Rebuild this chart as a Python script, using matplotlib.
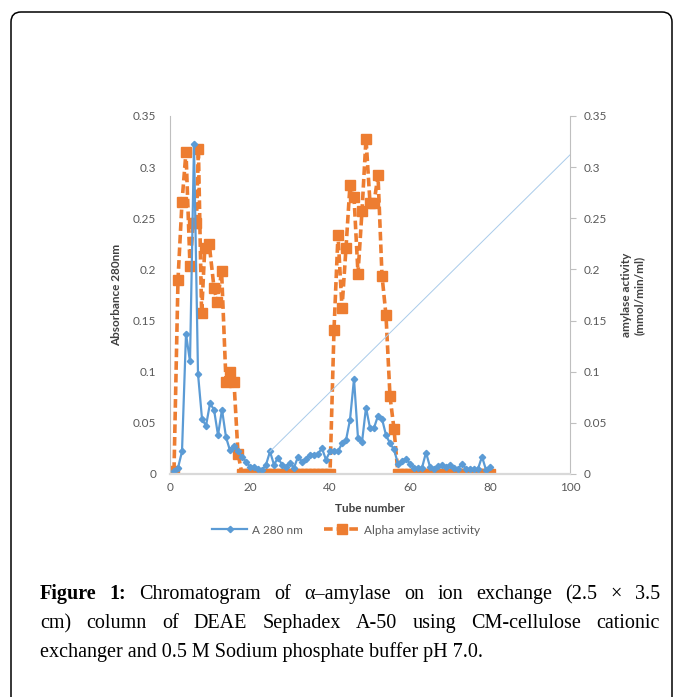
import matplotlib.pyplot as plt
from matplotlib.patches import FancyBboxPatch
from matplotlib.lines import Line2D
from matplotlib.ticker import FuncFormatter

# Data
a280_tube = list(range(1, 81))
a280 = [0.003, 0.006, 0.022, 0.137, 0.110, 0.323, 0.098, 0.054, 0.047, 0.069,
        0.063, 0.038, 0.063, 0.036, 0.023, 0.027, 0.022, 0.017, 0.012, 0.007,
        0.007, 0.005, 0.004, 0.009, 0.022, 0.009, 0.016, 0.009, 0.007, 0.011,
        0.006, 0.017, 0.012, 0.015, 0.019, 0.019, 0.020, 0.025, 0.014, 0.022,
        0.022, 0.022, 0.030, 0.033, 0.053, 0.093, 0.035, 0.031, 0.065, 0.045,
        0.045, 0.057, 0.054, 0.038, 0.030, 0.024, 0.010, 0.013, 0.015, 0.010,
        0.006, 0.006, 0.006, 0.021, 0.007, 0.005, 0.008, 0.009, 0.007, 0.009,
        0.006, 0.005, 0.010, 0.005, 0.005, 0.005, 0.005, 0.017, 0.004, 0.007]

amylase_tube = [1, 2, 3, 4, 5, 5.8, 6.6, 7.1, 7.9, 8.7, 9.8, 11, 11.8, 12.9,
                14, 15, 16, 17] + list(range(18, 81))
amylase = ([0.003, 0.190, 0.266, 0.315, 0.203, 0.245, 0.245, 0.318, 0.157,
            0.221, 0.225, 0.182, 0.168, 0.198, 0.090, 0.100, 0.090, 0.020]
           + [0.0] * 23
           + [0.141, 0.234, 0.162, 0.221, 0.283, 0.271, 0.196, 0.257, 0.328,
              0.265, 0.265, 0.292, 0.194, 0.155, 0.076, 0.044]
           + [0.0] * 24)

# thin gradient line
gradient_tube = [25, 100]
gradient = [0.022, 0.312]

xticks = [0, 20, 40, 60, 80, 100]
yticks = [0, 0.05, 0.1, 0.15, 0.2, 0.25, 0.3, 0.35]

caption_1 = "Chromatogram of α–amylase on ion exchange (2.5 × 3.5"
caption_2 = "cm) column of DEAE Sephadex A-50 using CM-cellulose cationic"
caption_3 = "exchanger and 0.5 M Sodium phosphate buffer pH 7.0."

blue = '#5B9BD5'
orange = '#ED7D31'
grey_txt = '#595959'
fs = 8.5
plt.rcParams['font.family'] = ['Lato', 'DejaVu Sans']

W, H = 683, 697
fig = plt.figure(figsize=(W / 100, H / 100), dpi=100)
ax = fig.add_axes([170 / W, 1 - 474 / H, 400 / W, 358 / H])
ax2 = ax.twinx()

# orange on the right axis, blue drawn over it
ax2.plot(amylase_tube, amylase, color=orange, lw=2.6, ls=(0, (2.4, 1.1)),
         marker='s', ms=7, mec=orange, mfc=orange)
ax.plot(a280_tube, a280, color=blue, lw=1.6, marker='D', ms=3.2,
        mec=blue, mfc=blue)
ax.plot(gradient_tube, gradient, color='#A9CBEA', lw=0.7)
ax.set_zorder(ax2.get_zorder() + 1)
ax.patch.set_visible(False)

fmt = FuncFormatter(lambda v, p: '{:g}'.format(round(v, 2)))
for a in (ax, ax2):
    a.set_xlim(0, 100)
    a.set_ylim(0, 0.35)
    a.set_yticks(yticks)
    a.yaxis.set_major_formatter(fmt)
    a.spines['top'].set_visible(False)
ax.set_xticks(xticks)
ax.tick_params(axis='x', length=0, pad=6, labelsize=fs, labelcolor=grey_txt)
ax.tick_params(axis='y', length=0, pad=10, labelsize=fs, labelcolor=grey_txt)
ax2.tick_params(axis='y', length=4, width=0.8, color='#BFBFBF', pad=6,
                labelsize=fs, labelcolor=grey_txt)
ax.spines['right'].set_visible(False)
ax.spines['left'].set_color('#BFBFBF')
ax.spines['left'].set_linewidth(0.8)
ax.spines['bottom'].set_color('#D9D9D9')
ax.spines['bottom'].set_linewidth(1.6)
ax2.spines['left'].set_visible(False)
ax2.spines['bottom'].set_visible(False)
ax2.spines['right'].set_color('#BFBFBF')
ax2.spines['right'].set_linewidth(0.8)

ax.set_xlabel('Tube number', fontsize=fs, fontweight='bold', color='#404040',
              labelpad=7)
ax.set_ylabel('Absorbance 280nm', fontsize=fs, fontweight='bold',
              color='#404040', labelpad=8)
ax2.set_ylabel('amylase activity\n(mmol/min/ml)', fontsize=fs,
               fontweight='bold', color='#404040', labelpad=10)

handles = [Line2D([], [], color=blue, lw=1.6, marker='D', ms=3.2),
           Line2D([], [], color=orange, lw=2.6, ls=(0, (2.4, 1.1)),
                  marker='s', ms=7)]
fig.legend(handles, ['A 280 nm', 'Alpha amylase activity'], ncol=2,
           loc='center', bbox_to_anchor=(346 / W, 1 - 530 / H), frameon=False,
           fontsize=fs, labelcolor=grey_txt, handlelength=3.0,
           columnspacing=1.8, handletextpad=0.4)

# rounded frame around the figure
frame = FancyBboxPatch((0.11, -0.3), 6.61, 6.97 - 0.12 + 0.3,
                       boxstyle='round,pad=0,rounding_size=0.1',
                       transform=fig.dpi_scale_trans, fill=False,
                       ec='black', lw=1.1)
fig.patches.append(frame)

# justified caption
serif = 'Liberation Serif'
cap_fs = 14.5
x0, x1 = 40, 660
renderer = fig.canvas.get_renderer()


def put_line(words, y_px):
    texts = []
    for w, bold in words:
        t = fig.text(0, 1 - y_px / H, w, family=serif, fontsize=cap_fs,
                     fontweight='bold' if bold else 'normal', va='baseline')
        texts.append(t)
    widths = [t.get_window_extent(renderer).width for t in texts]
    gap = (x1 - x0 - sum(widths)) / (len(texts) - 1)
    x = x0
    for t, w in zip(texts, widths):
        t.set_x(x / W)
        x += w + gap


line1 = [('Figure', True), ('1:', True)] + [(w, False) for w in caption_1.split()]
line2 = [(w, False) for w in caption_2.split()]
put_line(line1, 599)
put_line(line2, 628)
fig.text(x0 / W, 1 - 657 / H, caption_3, family=serif, fontsize=cap_fs,
         va='baseline')

fig.savefig('out.png', dpi=100)
